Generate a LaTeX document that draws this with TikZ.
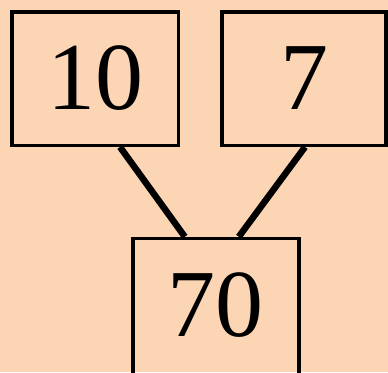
\documentclass[tikz,border=0pt]{standalone}
\usepackage{fontspec}
\setmainfont{Liberation Serif}
\definecolor{peach}{HTML}{FCD5B5}
\begin{document}
\begin{tikzpicture}[x=1pt,y=-1pt,
  numbox/.style={draw=black,line width=3.5pt,minimum width=166.5pt,minimum height=133.5pt,inner sep=0pt,font=\fontsize{96}{100}\selectfont,text=black},
  link/.style={draw=black,line width=6.5pt}]
\fill[peach] (0,0) rectangle (388,372);
\useasboundingbox (0,0) rectangle (388,372);
\begin{scope}
\clip (0,0) rectangle (388,372);
\node[numbox] (a) at (95,78.5) {10};
\node[numbox,minimum width=164pt] (b) at (304,78.5) {7};
\node[numbox,minimum width=166pt,minimum height=160pt,text depth=27pt] (c) at (215.8,318.5) {70};
\draw[link] ([xshift=25pt]a.south) -- ([xshift=-31pt]c.north);
\draw[link] ([xshift=1pt]b.south) -- ([xshift=23pt]c.north);
\end{scope}
\end{tikzpicture}
\end{document}
